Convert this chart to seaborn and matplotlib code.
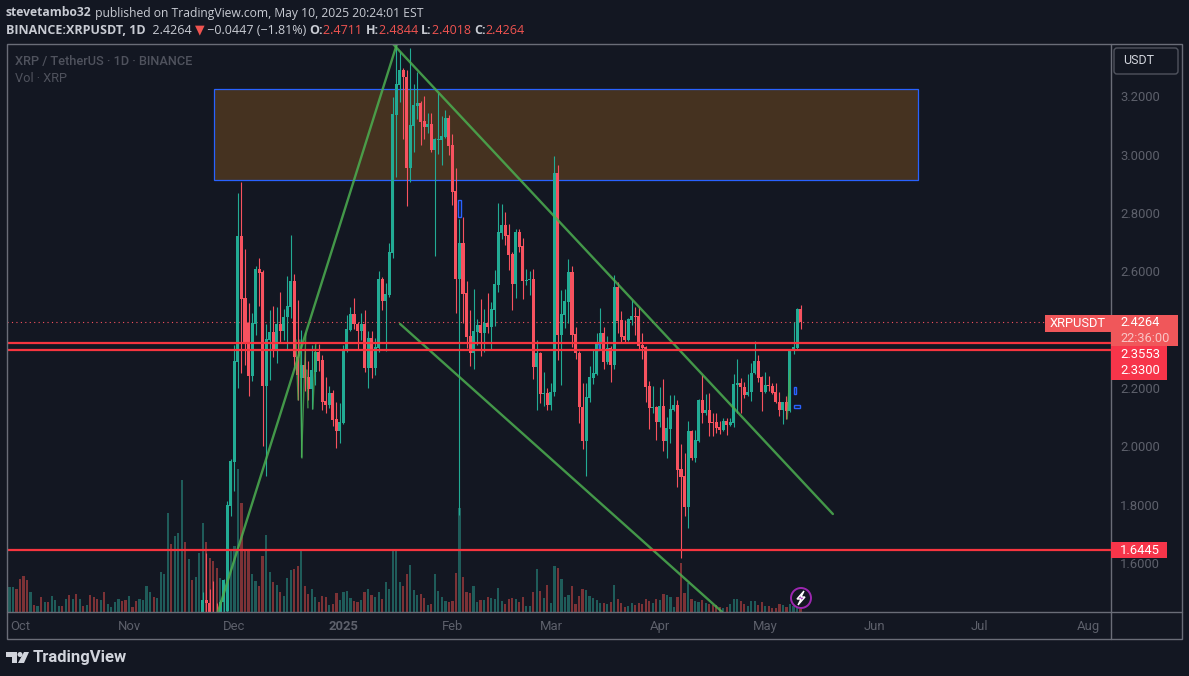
import pandas as pd
import seaborn as sns
import numpy as np
import matplotlib.pyplot as plt
from matplotlib.patches import Rectangle, Polygon, Circle, FancyBboxPatch

# XRP/USDT daily candles (Nov 21 2024 - May 10 2025)
opens = [1.422,1.473,1.463,1.411,1.398,1.404,1.466,1.435,1.795,1.946,2.289,2.722,2.509,2.423,2.241,2.420,2.608,2.598,2.207,2.365,
         2.392,2.334,2.420,2.396,2.444,2.478,2.567,2.306,2.234,2.279,2.238,2.197,2.255,2.324,2.296,2.156,2.142,2.183,2.094,2.053,
         2.080,2.327,2.399,2.454,2.420,2.396,2.420,2.269,2.372,2.269,2.337,2.574,2.499,2.519,2.663,3.137,3.239,3.291,3.267,2.955,
         3.099,3.167,3.178,3.116,3.095,3.106,3.017,3.051,3.051,3.061,3.126,3.034,2.875,2.574,2.698,2.526,2.379,2.320,2.392,2.416,
         2.389,2.423,2.409,2.468,2.553,2.732,2.759,2.725,2.660,2.557,2.735,2.687,2.567,2.571,2.574,2.272,2.320,2.180,2.183,2.142,
         2.186,2.938,2.382,2.451,2.495,2.598,2.385,2.320,2.135,2.018,2.166,2.234,2.248,2.351,2.389,2.289,2.337,2.279,2.547,2.433,
         2.379,2.365,2.433,2.447,2.447,2.348,2.341,2.207,2.132,2.135,2.084,2.138,2.018,2.060,2.125,2.142,1.922,1.898,1.792,2.053,
         1.960,2.018,2.159,2.114,2.125,2.084,2.084,2.066,2.056,2.087,2.073,2.080,2.210,2.217,2.204,2.176,2.186,2.252,2.293,2.238,
         2.186,2.210,2.207,2.186,2.152,2.125,2.152,2.121,2.327,2.337,2.4711]
highs = [1.500,1.634,1.511,1.538,1.463,1.473,1.545,1.813,1.957,2.348,2.869,2.907,2.677,2.492,2.457,2.619,2.646,2.605,2.420,2.468,
         2.481,2.478,2.529,2.471,2.584,2.725,2.591,2.502,2.399,2.330,2.293,2.348,2.348,2.351,2.313,2.238,2.207,2.193,2.152,2.149,
         2.348,2.451,2.478,2.509,2.427,2.457,2.468,2.396,2.396,2.372,2.601,2.581,2.560,2.698,3.198,3.384,3.353,3.298,3.291,3.366,
         3.243,3.284,3.185,3.202,3.143,3.143,3.058,3.212,3.133,3.154,3.137,3.071,2.955,2.780,2.787,2.567,2.468,2.540,2.437,2.505,
         2.471,2.526,2.495,2.605,2.835,2.831,2.804,2.763,2.667,2.746,2.746,2.715,2.608,2.601,2.608,2.365,2.324,2.255,2.200,2.217,
         2.996,2.965,2.536,2.540,2.643,2.619,2.409,2.327,2.217,2.217,2.276,2.331,2.389,2.475,2.409,2.379,2.344,2.588,2.564,2.464,
         2.433,2.440,2.502,2.478,2.478,2.389,2.344,2.224,2.207,2.138,2.204,2.231,2.101,2.176,2.176,2.159,2.008,1.977,2.087,2.056,
         2.056,2.162,2.245,2.179,2.183,2.114,2.114,2.087,2.097,2.097,2.097,2.248,2.300,2.234,2.221,2.248,2.286,2.361,2.313,2.241,
         2.255,2.241,2.217,2.217,2.186,2.152,2.173,2.331,2.427,2.475,2.4844]
lows = [1.411,1.432,1.404,1.387,1.370,1.387,1.432,1.422,1.761,1.847,2.200,2.252,2.279,2.173,2.224,2.382,2.481,2.001,1.898,2.228,
        2.306,2.286,2.358,2.365,2.331,2.440,2.262,2.159,1.963,2.190,2.159,2.128,2.210,2.258,2.125,2.114,2.132,2.070,1.994,2.012,
        2.077,2.324,2.396,2.403,2.331,2.365,2.255,2.200,2.234,2.245,2.324,2.468,2.327,2.512,2.646,2.924,3.180,3.054,2.824,2.907,
        3.010,3.123,3.034,3.054,3.075,3.010,2.653,3.003,2.965,3.058,3.000,2.828,2.457,1.765,2.423,2.337,2.276,2.265,2.348,2.310,
        2.324,2.389,2.331,2.413,2.529,2.711,2.691,2.605,2.468,2.509,2.667,2.505,2.553,2.519,2.231,2.125,2.149,2.139,2.125,2.125,
        2.173,2.296,2.210,2.406,2.423,2.341,2.300,2.080,1.991,1.898,2.152,2.214,2.245,2.331,2.265,2.282,2.221,2.265,2.389,2.358,
        2.358,2.361,2.416,2.382,2.331,2.300,2.152,2.060,2.115,2.022,2.066,1.984,1.960,2.012,2.121,1.861,1.617,1.761,1.720,1.953,
        1.946,2.015,2.080,2.108,2.036,2.036,2.046,2.042,2.053,2.039,2.070,2.066,2.114,2.114,2.166,2.173,2.156,2.248,2.221,2.121,
        2.183,2.190,2.180,2.149,2.104,2.077,2.094,2.118,2.317,2.334,2.4018]
closes = [1.473,1.463,1.411,1.398,1.377,1.466,1.542,1.799,1.950,2.293,2.722,2.505,2.355,2.241,2.423,2.608,2.595,2.207,2.368,2.392,
          2.334,2.420,2.396,2.444,2.481,2.567,2.306,2.245,2.279,2.234,2.197,2.262,2.324,2.293,2.152,2.142,2.183,2.090,2.053,2.084,
          2.331,2.403,2.454,2.420,2.396,2.420,2.269,2.372,2.269,2.341,2.574,2.499,2.523,2.667,3.140,3.243,3.291,3.267,2.955,3.102,
          3.171,3.178,3.113,3.095,3.106,3.017,3.054,3.054,3.065,3.126,3.030,2.872,2.574,2.698,2.523,2.375,2.320,2.396,2.416,2.389,
          2.423,2.409,2.471,2.557,2.735,2.759,2.722,2.656,2.557,2.735,2.684,2.567,2.571,2.574,2.272,2.320,2.180,2.183,2.142,2.186,
          2.938,2.382,2.454,2.499,2.598,2.382,2.320,2.135,2.018,2.169,2.238,2.252,2.355,2.389,2.289,2.337,2.279,2.547,2.430,2.375,
          2.365,2.437,2.447,2.444,2.344,2.337,2.204,2.132,2.135,2.084,2.138,2.018,2.063,2.128,2.142,1.919,1.895,1.792,2.053,1.960,
          2.022,2.159,2.114,2.125,2.080,2.080,2.063,2.056,2.087,2.073,2.084,2.214,2.217,2.204,2.176,2.186,2.252,2.293,2.234,2.186,
          2.210,2.207,2.183,2.152,2.125,2.152,2.121,2.327,2.341,2.471,2.4264]

# volume (arbitrary units) for the bars before the first candle
vol_early = [25,25,23,33,36,32,20,7,6,15,10,10,16,12,6,6,13,17,13,18,13,6,7,17,15,13,12,20,8,5,10,13,11,12,16,5,11,13,12,26,
             20,15,14,40,38,99,68,76,79,132,70,53,32,35,59]
up_early = [1,1,0,0,0,0,1,0,1,0,1,0,1,1,1,0,1,0,1,0,1,0,1,0,0,0,1,0,1,1,1,1,0,0,1,0,0,1,1,1,1,0,1,1,1,1,0,1,1,1,0,1,0,1,1]
vol_candles = [89,70,54,51,44,34,31,60,63,66,143,109,63,61,38,31,26,56,77,40,30,27,20,16,34,42,43,46,61,26,18,23,15,10,16,15,7,8,19,12,
               20,21,14,11,10,12,20,23,17,15,20,13,30,23,61,61,
               30,26,38,47,22,17,18,14,7,8,38,21,15,11,10,11,39,104,35,20,19,26,10,12,12,15,14,13,24,11,8,13,14,13,10,15,6,6,20,43,
               21,14,27,9,46,44,33,15,17,26,8,16,23,22,16,14,12,9,9,8,10,27,13,9,5,6,9,7,9,8,13,11,9,13,12,18,17,15,5,15,
               49,19,29,13,11,10,12,9,8,7,7,5,4,5,8,13,13,11,8,6,11,11,7,10,6,6,4,4,8,7,5,8,6,4,3]

month_starts = ['2024-10-01','2024-11-01','2024-12-01','2025-01-01','2025-02-01','2025-03-01','2025-04-01',
                '2025-05-01','2025-06-01','2025-07-01','2025-08-01']
month_labels = ['Oct','Nov','Dec','2025','Feb','Mar','Apr','May','Jun','Jul','Aug']
price_ticks = [3.2,3.0,2.8,2.6,2.2,2.0,1.8,1.6]
levels = [2.3553,2.33,1.6445]
last_price = 2.4264

# trend lines as (day since Oct 1, price) pairs
zone = [54.2,254.4,2.914,3.226]
trend_lines = [[(55.3,1.432),(106.2,3.380)],[(105.1,3.380),(230.2,1.768)],[(107.1,2.420),(198.7,1.432)]]
small_lines = [[(77.5,2.365),(78.1,2.159)],[(78.6,2.365),(79.2,1.960)],[(80.3,2.389),(79.1,1.964)],
               [(80.6,2.262),(80.9,2.132)],[(82.3,2.128),(83.1,2.351)],[(217.2,2.094),(218.0,2.262)]]
small_boxes = [(123.6,124.4,2.787,2.846),(163.0,163.8,2.330,2.352),(219.0,219.6,2.180,2.205),(219.0,220.8,2.131,2.141)]

BG = '#131722'
TEAL = '#22ab94'
RED = '#f7525f'
LINE_RED = '#f7353f'
FRAME = '#6a6d78'
DIM = '#5d606b'

sns.set_theme(style='dark', rc={'axes.facecolor': BG, 'figure.facecolor': BG})
plt.rcParams['font.family'] = ['Roboto', 'DejaVu Sans']

# one pixel = 1/100 inch, chart pane runs x 6.5-1110.5 and y 44-612
W, H = 1189, 676
fig = plt.figure(figsize=(W/100, H/100), dpi=100)
rect = [6.5/W, 1-612/H, 1104/W, 568/H]
ax_vol = fig.add_axes(rect)
ax = fig.add_axes(rect)
ax.patch.set_visible(False)

day0 = pd.Timestamp('2024-10-01')
dates_all = pd.date_range('2024-09-27', periods=len(vol_early)+len(vol_candles))
dates_c = dates_all[len(vol_early):]
days_c = np.array((dates_c-day0).days)
df = pd.DataFrame({'day': days_c, 'o': opens, 'h': highs, 'l': lows, 'c': closes})
df['up'] = df.c >= df.o

x_lim = ((6.5-23.5)/3.516, (1110.5-23.5)/3.516)

# volume bars
vol = pd.DataFrame({'day': np.array((dates_all-day0).days), 'volume': vol_early+vol_candles,
                    'up': [bool(u) for u in up_early]+list(df.up)})
sns.barplot(data=vol, x='day', y='volume', hue='up', palette={True: '#1f5c5a', False: '#7c3236'}, dodge=False,
            native_scale=True, width=0.62, saturation=1, legend=False, linewidth=0, ax=ax_vol)
ax_vol.set_xlim(x_lim)
ax_vol.set_ylim(0, 568)
ax_vol.axis('off')

# candles
for up, g in df.groupby('up'):
    col = TEAL if up else RED
    ax.vlines(g.day, g.l, g.h, color=col, lw=0.8, zorder=3)
    ax.bar(g.day, (g.c-g.o).abs().clip(lower=0.004), bottom=g[['o','c']].min(axis=1), width=0.86, color=col,
           linewidth=0, antialiased=False, zorder=3)

# supply zone
ax.add_patch(Rectangle((zone[0], zone[2]), zone[1]-zone[0], zone[3]-zone[2], fc='#453220', ec='#2962ff', lw=0.9, zorder=1))
for b in small_boxes:
    ax.add_patch(Rectangle((b[0], b[2]), b[1]-b[0], b[3]-b[2], fc='none', ec='#2962ff', lw=1, zorder=2))

# trend lines and levels
for ln in trend_lines:
    ax.plot([p[0] for p in ln], [p[1] for p in ln], color='#4caf50', lw=1.7, alpha=0.85, zorder=5)
for ln in small_lines:
    ax.plot([p[0] for p in ln], [p[1] for p in ln], color='#4caf50', lw=1, alpha=0.8, zorder=5)
for lv in levels:
    ax.axhline(lv, color=LINE_RED, lw=1.6, zorder=6)
ax.axhline(last_price, color='#f7525f', lw=0.8, ls=(0, (1, 3)), zorder=2)

ax.set_xlim(x_lim)
ax.set_ylim(3.2-(612-96.5)/291.56, 3.2+(96.5-44)/291.56)
ax.set_xlabel('')
ax.set_ylabel('')
ax.yaxis.tick_right()
ax.set_yticks(price_ticks)
ax.set_yticklabels([f'{t:.4f}' for t in price_ticks], color=DIM, fontsize=9.4)
ax.set_xticks([(pd.Timestamp(m)-day0).days-1 for m in month_starts])
ax.set_xticklabels(month_labels, color=DIM, fontsize=9.4)
ax.get_xticklabels()[3].set_fontweight('bold')
ax.tick_params(axis='x', length=0, pad=6)
ax.tick_params(axis='y', length=0, pad=7)
for s in ax.spines.values():
    s.set_visible(False)

# everything around the chart, in pixel coordinates
ov = fig.add_axes([0, 0, 1, 1])
ov.set_xlim(0, W)
ov.set_ylim(H, 0)
ov.axis('off')
ov.patch.set_visible(False)

ov.add_patch(Rectangle((6.5, 44), 1175.5, 595, fc='none', ec=FRAME, lw=1))
ov.plot([1110.5, 1110.5], [44, 639], color=FRAME, lw=1)
ov.plot([6.5, 1182], [612, 612], color=FRAME, lw=1)


def row(x, y, parts, size=9):
    # draw text pieces one after the other
    r = fig.canvas.get_renderer()
    for s, col, wt in parts:
        t = ov.text(x, y, s, color=col, fontsize=size, fontweight=wt, va='center', ha='left',
                    family=['Open Sans', 'DejaVu Sans'])
        x = ov.transData.inverted().transform(t.get_window_extent(r).get_points())[1][0]


HEAD = '#c8cbd3'
VAL = '#ef5350'
row(6, 13, [('stevetambo32', HEAD, 'bold'), (' published on TradingView.com, May 10, 2025 20:24:01 EST', HEAD, 'normal')], size=8.7)
row(6, 30, [('BINANCE:XRPUSDT, 1D', HEAD, 'bold'), ('  2.4264 ', HEAD, 'normal'), ('▼', VAL, 'normal'),
            (' −0.0447 (−1.81%) ', HEAD, 'normal'), ('O:', HEAD, 'bold'), ('2.4711 ', VAL, 'normal'),
            ('H:', HEAD, 'bold'), ('2.4844 ', VAL, 'normal'), ('L:', HEAD, 'bold'), ('2.4018 ', VAL, 'normal'),
            ('C:', HEAD, 'bold'), ('2.4264', VAL, 'normal')])

ov.text(15, 61, 'XRP / TetherUS · 1D · BINANCE', color='#4f525d', fontsize=9.2, fontweight='medium', va='center')
ov.text(15, 78, 'Vol · XRP', color='#4f525d', fontsize=9.2, va='center')

# price tags
ov.add_patch(Rectangle((1045, 315), 65.5, 17, fc='#f0575a', ec='none', zorder=5))
ov.text(1078, 323.5, 'XRPUSDT', color='white', fontsize=9.3, ha='center', va='center', zorder=6)
ov.add_patch(Rectangle((1111, 315), 67, 31, fc='#f0575a', ec='none', zorder=5))
ov.text(1120, 323, '2.4264', color='white', fontsize=9.2, va='center', zorder=6)
ov.text(1120, 338.5, '22:36:00', color='#f9c4c4', fontsize=9.2, va='center', zorder=6)
ov.add_patch(Rectangle((1111, 346), 56, 34, fc='#f7354a', ec='none', zorder=5))
ov.text(1120, 355, '2.3553', color='white', fontsize=9.4, va='center', zorder=6)
ov.text(1120, 371, '2.3300', color='white', fontsize=9.4, va='center', zorder=6)
ov.add_patch(Rectangle((1111, 542), 56, 16, fc='#f7354a', ec='none', zorder=5))
ov.text(1120, 550.5, '1.6445', color='white', fontsize=9.4, va='center', zorder=6)

# currency button
ov.add_patch(FancyBboxPatch((1116, 50), 60, 22, boxstyle='round,pad=2,rounding_size=3', fc=BG, ec='#50535e', lw=1, zorder=5))
ov.text(1139, 60.5, 'USDT', color='#d1d4dc', fontsize=9, ha='center', va='center', zorder=6)

# lightning badge
ov.add_patch(Circle((801, 598), 10, fc=BG, ec='#9c27b0', lw=1.4, zorder=5))
ov.add_patch(Polygon([(804, 591), (797, 599), (801, 599), (798, 605), (805, 597), (801, 597)], fc='#9c27b0', zorder=6))

# TradingView logo
LOGO = '#d1d4dc'
ov.add_patch(Polygon([(6, 652), (17, 652), (17, 663), (12, 663), (12, 657), (6, 657)], fc=LOGO, ec='none'))
ov.add_patch(Circle((20, 654.5), 2.5, fc=LOGO, ec='none'))
ov.add_patch(Polygon([(24, 652), (29, 652), (24, 663), (18, 663)], fc=LOGO, ec='none'))
ov.text(33, 657.5, 'TradingView', color=LOGO, fontsize=12, fontweight='bold', va='center', family=['Roboto', 'DejaVu Sans'])

fig.savefig('out.png', dpi=100, facecolor=BG)
